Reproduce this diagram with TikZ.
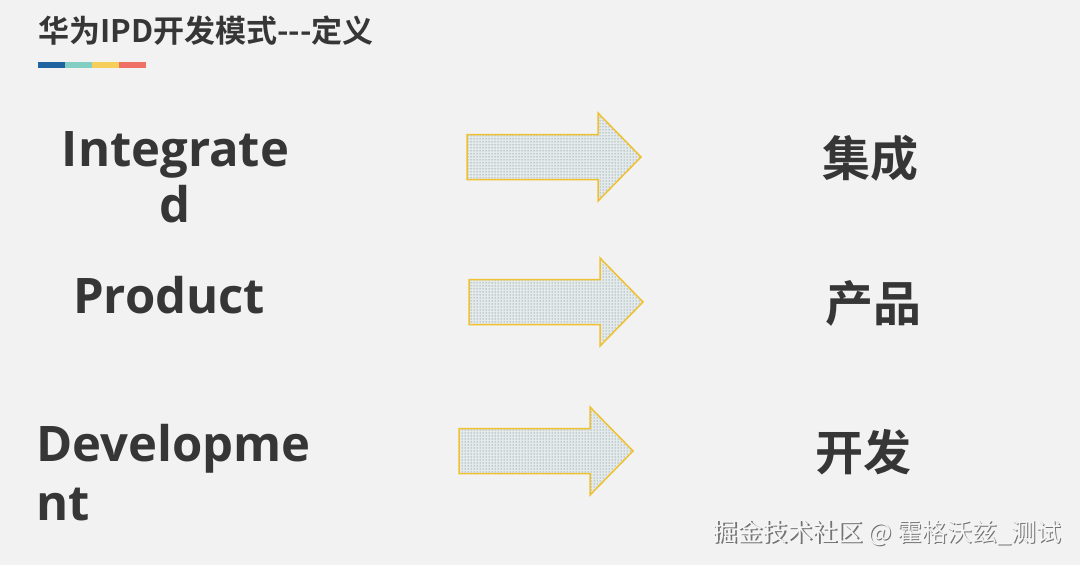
\documentclass[tikz,border=0pt]{standalone}
\usepackage{fontspec}
\setmainfont{Open Sans}
\newfontfamily\cjk{Noto Sans CJK SC}
\newfontfamily\cjkb{Noto Sans CJK SC Bold}
\newfontfamily\latb{Open Sans Bold}
\usetikzlibrary{patterns}
\definecolor{bg}{HTML}{F2F2F2}
\definecolor{txt}{HTML}{363636}
\definecolor{cblue}{HTML}{1F64A0}
\definecolor{cteal}{HTML}{82CEC2}
\definecolor{cyel}{HTML}{F6CF5A}
\definecolor{cred}{HTML}{EF7064}
\definecolor{aedge}{HTML}{EFC030}
\definecolor{afill}{HTML}{E4EAEA}
\definecolor{adot}{HTML}{4A6A78}
\begin{document}
\begin{tikzpicture}[x=1pt,y=-1pt,
  eng/.style={text=txt, inner sep=0pt},
  zh/.style={font=\cjkb\fontsize{48}{52}\selectfont, text=txt, inner sep=0pt},
  arrowdots/.style={pattern=dots, pattern color=adot}
]
\fill[bg] (0,0) rectangle (1080,565);
\useasboundingbox (0,0) rectangle (1080,565);
% title
\node[anchor=base west, font=\cjkb\fontsize{31}{34}\selectfont, text=txt, inner sep=0pt] (title) at (38,42) {华为IPD开发模式---定义};
% colour bar
\fill[cblue] (38,62) rectangle (65,68);
\fill[cteal] (65,62) rectangle (92,68);
\fill[cyel] (92,62) rectangle (119,68);
\fill[cred] (119,62) rectangle (146,68);
% english words
\node[eng, font=\latb\fontsize{49}{56}\selectfont, anchor=base, align=center] (int) at (175.5,222) {Integrate\\d};
\node[eng, font=\latb\fontsize{49}{56}\selectfont, anchor=base west] (prod) at (73,313) {Product};
\node[eng, font=\latb\fontsize{49}{59}\selectfont, anchor=base west, align=left] (dev) at (36,520) {Developme\\nt};
% arrows
\foreach \x/\y/\n in {467/157/a1, 469/302/a2, 459/451/a3}{
  \path[fill=afill] (\x,\y-22.5) -- (\x+131,\y-22.5) -- (\x+131,\y-44) -- (\x+174,\y) -- (\x+131,\y+44) -- (\x+131,\y+22.5) -- (\x,\y+22.5) -- cycle;
  \path[arrowdots] (\x,\y-22.5) -- (\x+131,\y-22.5) -- (\x+131,\y-44) -- (\x+174,\y) -- (\x+131,\y+44) -- (\x+131,\y+22.5) -- (\x,\y+22.5) -- cycle;
  \draw[aedge, line width=1.5pt, line join=miter] (\x,\y-22.5) -- (\x+131,\y-22.5) -- (\x+131,\y-44) -- (\x+174,\y) -- (\x+131,\y+44) -- (\x+131,\y+22.5) -- (\x,\y+22.5) -- cycle;
}
% chinese words
\node[zh] (ji) at (870,158) {集成};
\node[zh] (chan) at (873,303) {产品};
\node[zh] (kai) at (863,452) {开发};
% watermark
\node[font=\cjk\fontsize{25}{28}\selectfont, text=black!55, inner sep=0pt] (wms) at (888.5,534.5) {掘金技术社区 @ 霍格沃兹\_测试};
\node[font=\cjk\fontsize{25}{28}\selectfont, text=white!96!black, inner sep=0pt] (wm) at (887,533) {掘金技术社区 @ 霍格沃兹\_测试};
\end{tikzpicture}
\end{document}
